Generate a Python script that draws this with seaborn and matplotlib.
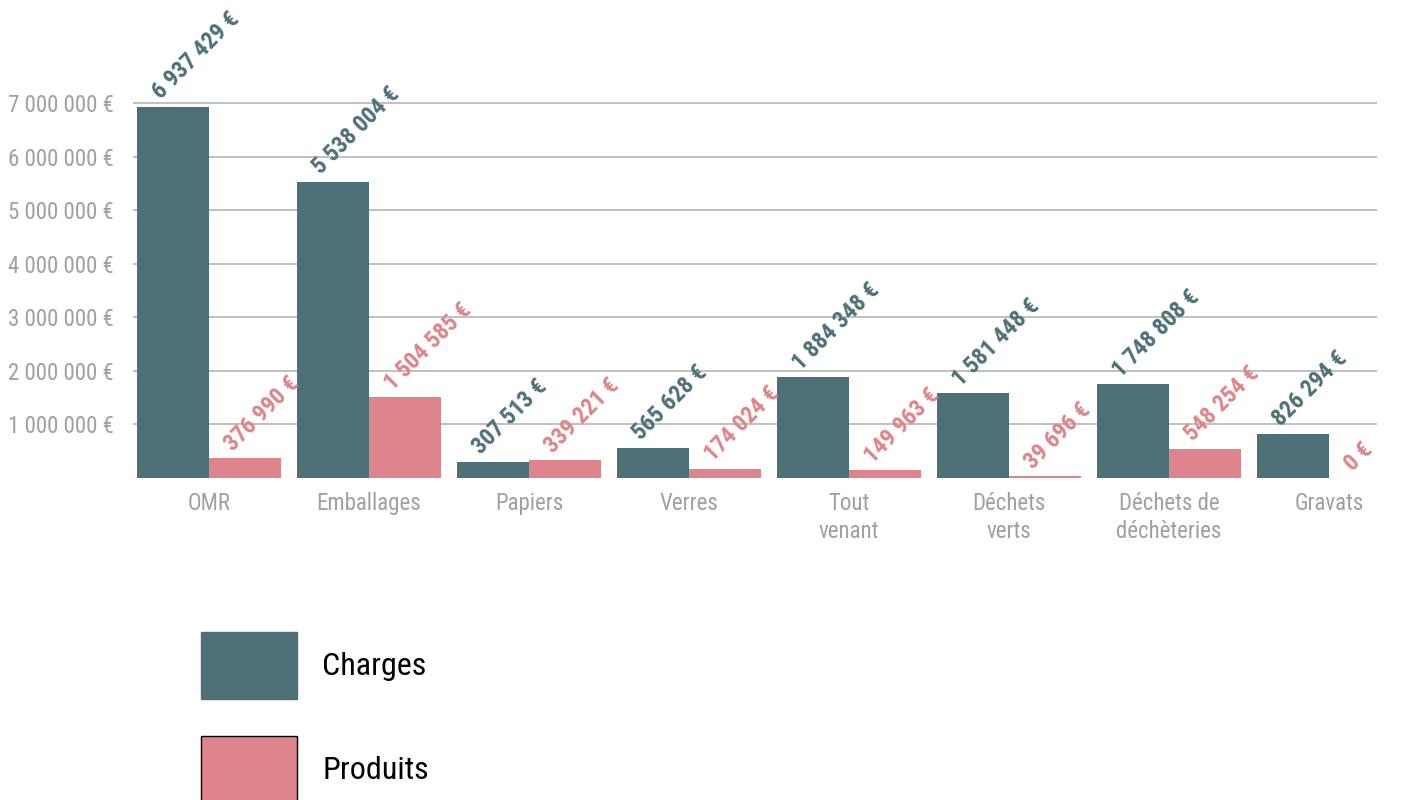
import pandas as pd
import seaborn as sns
import matplotlib.pyplot as plt
from matplotlib.patches import Patch

sns.set_theme(style="white")
plt.rcParams['font.family'] = ['Roboto Condensed', 'Liberation Sans', 'DejaVu Sans']

categories = ["OMR", "Emballages", "Papiers", "Verres", "Tout venant",
              "Déchets verts", "Déchets de déchèteries", "Gravats"]
tick_labels = ["OMR", "Emballages", "Papiers", "Verres", "Tout\nvenant",
               "Déchets\nverts", "Déchets de\ndéchèteries", "Gravats"]
charges = [6937429, 5538004, 307513, 565628, 1884348, 1581448, 1748808, 826294]
produits = [376990, 1504585, 339221, 174024, 149963, 39696, 548254, 0]
series = ["Charges", "Produits"]

c_charges = "#4D7078"
c_produits = "#DD858B"
grey = "#A0A0A0"

df = pd.DataFrame({
    "cat": categories * 2,
    "type": ["Charges"] * len(categories) + ["Produits"] * len(categories),
    "value": charges + produits,
})

fig = plt.figure(figsize=(14.01, 8), dpi=100)
ax = fig.add_axes([133 / 1401, 322 / 800, (1377 - 133) / 1401, 396 / 800])

sns.barplot(data=df, x="cat", y="value", hue="type", order=categories,
            hue_order=series, palette=[c_charges, c_produits], width=0.9,
            saturation=1, errorbar=None, ax=ax, legend=False, linewidth=0)

ax.set_xlim(-0.475, 7.3)
ax.set_ylim(0, 7.4e6)
yt = [1e6, 2e6, 3e6, 4e6, 5e6, 6e6, 7e6]
ax.set_yticks(yt)
ax.set_yticklabels([f"{int(v):,} €".replace(",", " ") for v in yt], color=grey, fontsize=16.5)
ax.set_xticks(range(len(categories)))
ax.set_xticklabels(tick_labels, color=grey, fontsize=16.5, linespacing=1.3)
ax.tick_params(axis="y", length=0, pad=14)
ax.tick_params(axis="x", length=0, pad=10)
ax.yaxis.grid(True, color="#B5B5B5", linewidth=1.2)
ax.set_axisbelow(True)
for s in ax.spines.values():
    s.set_visible(False)
ax.set_xlabel("")
ax.set_ylabel("")

# value labels, rotated
for cont, vals, col in zip(ax.containers, [charges, produits], [c_charges, c_produits]):
    for bar, v in zip(cont, vals):
        x = bar.get_x() + bar.get_width() / 2
        ax.annotate(f"{v:,} €".replace(",", " "), (x, bar.get_height()),
                    xytext=(-6, 2), textcoords="offset points",
                    rotation=45, rotation_mode="anchor", ha="left", va="bottom",
                    color=col, fontsize=17, fontweight="bold",
                    annotation_clip=False)

handles = [Patch(facecolor=c_charges, edgecolor=c_charges),
           Patch(facecolor=c_produits, edgecolor="black", linewidth=1)]
fig.legend(handles, series, loc="upper left", bbox_to_anchor=(201 / 1401, 1 - 632 / 800),
           frameon=False, fontsize=23, handlelength=3.0, handleheight=2.85,
           handletextpad=0.8, labelspacing=1.15, borderpad=0, borderaxespad=0,
           labelcolor="black")

fig.savefig("out.png", dpi=100)
